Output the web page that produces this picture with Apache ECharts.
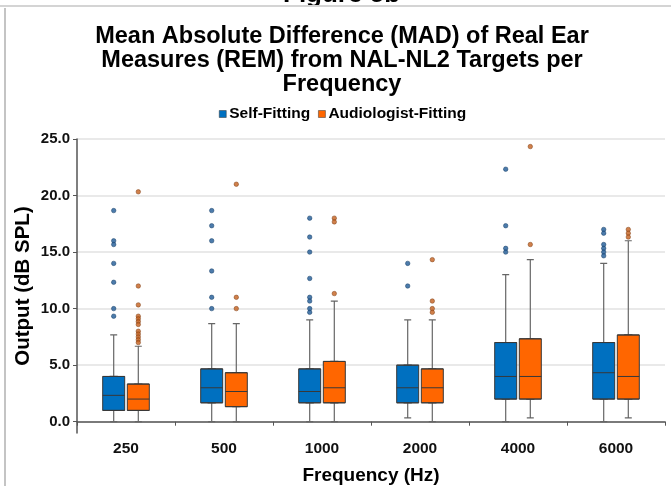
<!DOCTYPE html>
<html>
<head>
<meta charset="utf-8">
<script src="https://cdn.jsdelivr.net/npm/echarts@6/dist/echarts.min.js"></script>
<style>html,body{margin:0;padding:0;background:#fff}#c{width:671px;height:486px}</style>
</head>
<body>
<div id="c"></div>
<script>
const categories = ['250', '500', '1000', '2000', '4000', '6000'];
const yTicks = [0, 5, 10, 15, 20, 25];
// [min, Q1, median, Q3, max]
const selfBox = [
  [0, 1.0, 2.33, 4.0, 7.67],
  [0, 1.67, 3.0, 4.67, 8.67],
  [0, 1.67, 2.67, 4.67, 9.0],
  [0.33, 1.67, 3.0, 5.0, 9.0],
  [0, 2.0, 4.0, 7.0, 13.0],
  [0, 2.0, 4.33, 7.0, 14.0]
];
const audBox = [
  [0, 1.0, 2.0, 3.33, 6.67],
  [0, 1.33, 2.67, 4.33, 8.67],
  [0, 1.67, 3.0, 5.33, 10.67],
  [0, 1.67, 3.0, 4.67, 9.0],
  [0.33, 2.0, 4.0, 7.33, 14.33],
  [0.33, 2.0, 4.0, 7.67, 16.0]
];
const selfOutliers = [
  [18.67, 16.0, 15.67, 14.0, 12.33, 10.0, 9.33],
  [18.67, 17.33, 16.0, 13.33, 11.0, 10.0],
  [18.0, 16.33, 15.0, 12.67, 11.0, 10.67, 10.0, 9.67],
  [14.0, 12.0],
  [22.33, 17.33, 15.33, 15.0],
  [17.0, 16.67, 15.67, 15.33, 15.0, 14.67]
];
const audOutliers = [
  [20.33, 12.0, 10.33, 9.33, 9.1, 8.85, 8.6, 8.0, 7.75, 7.5, 7.25, 7.0],
  [21.0, 11.0, 10.0],
  [18.0, 17.67, 11.33],
  [14.33, 10.67, 10.0, 9.67],
  [24.33, 15.67],
  [17.0, 16.67, 16.33]
];

const FONT = "'Liberation Sans', Arial, sans-serif";
const bodyData = b => b.map(r => [r[1], r[1], r[2], r[3], r[3]]);
const outData = o => o.flatMap((vals, i) => vals.map(v => [i, v]));

const G = { top: 139, height: 294, width: 588, outerBoundsMode: 'none', containLabel: false };
const gridAt = left => Object.assign({ left: left }, G);
const hiddenX = (grid, pos) => ({
  type: 'category', data: categories, gridIndex: grid, position: pos, show: false
});
const hiddenY = grid => ({ type: 'value', min: -1, max: 25, gridIndex: grid, show: false });

const chart = echarts.init(document.getElementById('c'));
chart.setOption({
  animation: false,
  backgroundColor: '#fff',
  textStyle: { fontFamily: FONT },
  title: {
    text: 'Mean Absolute Difference (MAD) of Real Ear\nMeasures (REM) from NAL-NL2 Targets per\nFrequency',
    left: 337, top: 20, textAlign: 'center',
    textStyle: { fontFamily: FONT, fontSize: 23.5, fontWeight: 'bold', lineHeight: 24, color: '#000' }
  },
  legend: {
    top: 101, left: 214,
    icon: 'rect', itemWidth: 7, itemHeight: 7, itemGap: 8,
    textStyle: { fontFamily: FONT, fontSize: 15.5, fontWeight: 'bold', color: '#000', padding: [0, 0, 0, -2] },
    data: [
      { name: 'Self-Fitting', itemStyle: { color: '#0070C0', borderColor: '#333', borderWidth: 0.5 } },
      { name: 'Audiologist-Fitting', itemStyle: { color: '#FF6600', borderColor: '#333', borderWidth: 0.5 } }
    ]
  },
  graphic: [
    { type: 'text', left: 283, top: -18, style: { text: 'Figure 5b', font: 'bold 26px ' + FONT, fill: '#000' }, z: 0 },
    { type: 'rect', shape: { x: 0, y: 5, width: 671, height: 2 }, style: { fill: '#d4d4d4' }, z: 1 },
    { type: 'rect', shape: { x: 4, y: 8, width: 2, height: 478 }, style: { fill: '#c4c4c4' } }
  ],
  grid: [gridAt(77), gridAt(77 - 12.3), gridAt(77 + 12.3)],
  xAxis: [
    {
      type: 'category', data: categories, gridIndex: 0,
      name: 'Frequency (Hz)', nameLocation: 'middle', nameGap: 33, nameMoveOverlap: false,
      nameTextStyle: { fontFamily: FONT, fontSize: 19, fontWeight: 'bold', color: '#000' },
      axisLine: { lineStyle: { color: '#555', width: 1.5 } },
      axisTick: { show: true, length: 4, lineStyle: { color: '#555' } },
      axisLabel: { fontFamily: FONT, fontSize: 15.5, fontWeight: 'bold', color: '#111', margin: 8 },
      splitLine: { show: false }
    },
    hiddenX(1, 'bottom'), hiddenX(1, 'top'),
    hiddenX(2, 'bottom'), hiddenX(2, 'top')
  ],
  yAxis: [
    {
      type: 'value', min: -1, max: 25, interval: 1, gridIndex: 0,
      name: 'Output (dB SPL)', nameLocation: 'middle', nameGap: 43, nameRotate: 90,
      nameMoveOverlap: false,
      nameTextStyle: { fontFamily: FONT, fontSize: 20.5, fontWeight: 'bold', color: '#000' },
      axisLine: { show: true, lineStyle: { color: '#555', width: 1.5 } },
      axisTick: { show: true, length: 4, customValues: yTicks, lineStyle: { color: '#555' } },
      axisLabel: {
        fontFamily: FONT, fontSize: 15, fontWeight: 'bold', color: '#111', margin: 7,
        customValues: yTicks, formatter: v => Number(v).toFixed(1)
      },
      splitLine: { show: false }
    },
    hiddenY(1), hiddenY(2)
  ],
  series: [
    {
      type: 'line', xAxisIndex: 0, yAxisIndex: 0, data: [], z: 0, silent: true,
      markLine: {
        z: 0, zlevel: 0,
        silent: true, symbol: 'none', animation: false, label: { show: false },
        lineStyle: { color: '#e2e2e2', width: 1.5, type: 'solid' },
        data: yTicks.map(v => ({ yAxis: v }))
      }
    },
    {
      name: 'Self-Fitting', type: 'boxplot', xAxisIndex: 1, yAxisIndex: 1, boxWidth: 7,
      data: selfBox, z: 2,
      itemStyle: { color: '#fff', borderColor: '#666', borderWidth: 1.2 }
    },
    {
      name: 'Self-Fitting', type: 'boxplot', xAxisIndex: 2, yAxisIndex: 1, boxWidth: 22,
      data: bodyData(selfBox), z: 3,
      itemStyle: { color: '#0070C0', borderColor: '#383838', borderWidth: 1 }
    },
    {
      name: 'Audiologist-Fitting', type: 'boxplot', xAxisIndex: 3, yAxisIndex: 2, boxWidth: 7,
      data: audBox, z: 2,
      itemStyle: { color: '#fff', borderColor: '#666', borderWidth: 1.2 }
    },
    {
      name: 'Audiologist-Fitting', type: 'boxplot', xAxisIndex: 4, yAxisIndex: 2, boxWidth: 22,
      data: bodyData(audBox), z: 3,
      itemStyle: { color: '#FF6600', borderColor: '#383838', borderWidth: 1 }
    },
    {
      name: 'Self-Fitting', type: 'scatter', xAxisIndex: 1, yAxisIndex: 1, symbolSize: 4.5, z: 4,
      data: outData(selfOutliers),
      itemStyle: { color: '#1F5A96', borderColor: '#123a63', borderWidth: 0.6 }
    },
    {
      name: 'Audiologist-Fitting', type: 'scatter', xAxisIndex: 3, yAxisIndex: 2, symbolSize: 4.5, z: 4,
      data: outData(audOutliers),
      itemStyle: { color: '#C4601E', borderColor: '#7a3a10', borderWidth: 0.6 }
    }
  ]
});
</script>
</body>
</html>
